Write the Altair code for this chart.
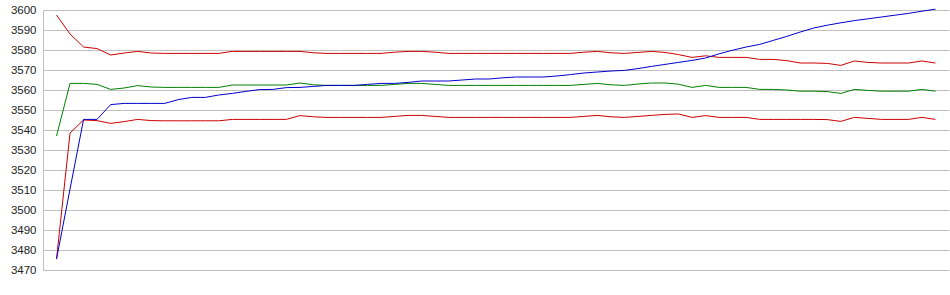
import altair as alt
import pandas as pd

upper = [3597.5, 3588.0, 3581.5, 3580.7, 3577.5, 3578.5, 3579.3, 3578.5,
         3578.3, 3578.3, 3578.3, 3578.3, 3578.3,
         3579.3, 3579.3, 3579.3, 3579.3, 3579.3, 3579.3, 3578.6,
         3578.3, 3578.3, 3578.3, 3578.3, 3578.3,
         3578.9, 3579.3, 3579.3, 3578.9,
         3578.3, 3578.3, 3578.3, 3578.3, 3578.3, 3578.3, 3578.3, 3578.3, 3578.3, 3578.3,
         3578.9, 3579.3, 3578.6, 3578.3, 3578.8, 3579.3, 3578.8, 3577.7,
         3576.3, 3577.1, 3576.3, 3576.3, 3576.3, 3575.3, 3575.3, 3574.7,
         3573.5, 3573.5, 3573.3, 3572.3, 3574.5, 3573.8, 3573.5, 3573.5, 3573.5,
         3574.5, 3573.5]

middle = [3537.0, 3563.3, 3563.3, 3562.8, 3560.3, 3561.0, 3562.2, 3561.5,
          3561.3, 3561.3, 3561.3, 3561.3, 3561.3,
          3562.5, 3562.5, 3562.5, 3562.5, 3562.5, 3563.5, 3562.6,
          3562.3, 3562.3, 3562.3, 3562.3, 3562.3,
          3562.8, 3563.3, 3563.3, 3562.8,
          3562.3, 3562.3, 3562.3, 3562.3, 3562.3, 3562.3, 3562.3, 3562.3, 3562.3, 3562.3,
          3562.8, 3563.3, 3562.6, 3562.3, 3563.0, 3563.5, 3563.5, 3562.9,
          3561.3, 3562.3, 3561.3, 3561.3, 3561.3, 3560.3, 3560.3, 3560.0,
          3559.4, 3559.4, 3559.2, 3558.3, 3560.3, 3559.8, 3559.4, 3559.4, 3559.4,
          3560.3, 3559.4]

lower = [3475.5, 3538.5, 3545.0, 3544.7, 3543.3, 3544.2, 3545.3, 3544.7,
         3544.6, 3544.6, 3544.6, 3544.6, 3544.6,
         3545.3, 3545.3, 3545.3, 3545.3, 3545.3, 3547.2, 3546.6,
         3546.3, 3546.3, 3546.3, 3546.3, 3546.3,
         3546.8, 3547.3, 3547.3, 3546.8,
         3546.3, 3546.3, 3546.3, 3546.3, 3546.3, 3546.3, 3546.3, 3546.3, 3546.3, 3546.3,
         3546.8, 3547.3, 3546.6, 3546.3, 3546.8, 3547.3, 3547.8, 3548.0,
         3546.3, 3547.2, 3546.3, 3546.3, 3546.3, 3545.3, 3545.3, 3545.3,
         3545.3, 3545.3, 3545.2, 3544.3, 3546.3, 3545.8, 3545.3, 3545.3, 3545.3,
         3546.3, 3545.3]

price = [3475.5, 3510.5, 3545.3, 3545.3, 3552.7, 3553.3, 3553.3, 3553.3,
         3553.3, 3555.2, 3556.3, 3556.3, 3557.5,
         3558.3, 3559.3, 3560.2, 3560.3, 3561.2, 3561.3, 3561.8,
         3562.3, 3562.3, 3562.3, 3562.8, 3563.3,
         3563.3, 3563.8, 3564.5, 3564.5,
         3564.5, 3565.0, 3565.5, 3565.5, 3566.1, 3566.5, 3566.5, 3566.5, 3567.0, 3567.7,
         3568.5, 3569.0, 3569.5, 3569.8, 3570.7, 3571.8, 3572.8, 3573.8,
         3574.8, 3576.0, 3578.1, 3579.9, 3581.5, 3582.8, 3584.8, 3586.8,
         3589.0, 3591.0, 3592.4, 3593.6, 3594.7, 3595.6, 3596.5, 3597.4, 3598.3,
         3599.4, 3600.4]

y_ticks = list(range(3470, 3601, 10))

series_names = ["upper", "lower", "middle", "price"]
series_colors = ["#cc0000", "#cc0000", "#008000", "#0000cc"]

n = len(price)
idx = list(range(n))
df = pd.DataFrame({
    "i": idx * 4,
    "v": upper + lower + middle + price,
    "s": [s for s in series_names for _ in range(n)],
})

base = alt.Chart(df).encode(
    x=alt.X("i:Q", scale=alt.Scale(domain=[-1, n], nice=False, zero=False), axis=None),
    y=alt.Y("v:Q",
            scale=alt.Scale(domain=[3470, 3600], nice=False, zero=False),
            axis=alt.Axis(values=y_ticks, title=None, ticks=False, format="d",
                          domainColor="#c0c0c0", gridColor="#c0c0c0",
                          gridOpacity=1, domainOpacity=1,
                          labelFont="Liberation Sans", labelFontSize=11.5,
                          labelColor="#222222", labelPadding=7)),
)

layers = []
for name, col in zip(series_names, series_colors):
    layers.append(
        base.transform_filter(alt.datum.s == name)
        .mark_line(color=col, strokeWidth=1)
    )

chart = alt.layer(*layers).properties(
    width=906, height=260,
    padding={"left": 43, "top": 10, "right": 1, "bottom": 25},
    autosize="none",
    background="white",
).configure_view(stroke=None)

chart.save("out.html", embed_options={"renderer": "svg", "actions": False})
